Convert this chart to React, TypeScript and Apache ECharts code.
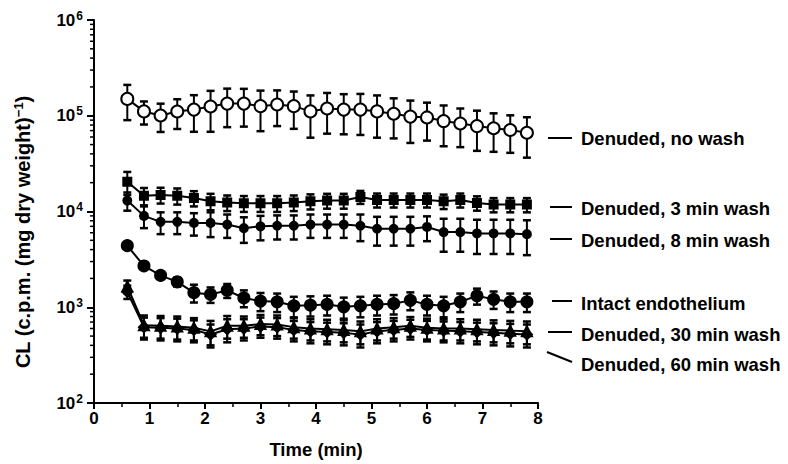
import React, { useEffect, useRef } from "react";
import * as echarts from "echarts";

const times = [0.6, 0.9, 1.2, 1.5, 1.8, 2.1, 2.4, 2.7, 3.0, 3.3, 3.6, 3.9, 4.2, 4.5, 4.8, 5.1, 5.4, 5.7, 6.0, 6.3, 6.6, 6.9, 7.2, 7.5, 7.8];

const noWash = [150000, 111000, 100700, 110700, 116000, 125000, 134000, 134000, 126000, 131000, 126000, 111000, 119000, 116000, 116000, 111000, 105000, 98000, 96000, 88000, 83000, 78000, 74000, 71000, 66500];
const noWashErr = [60000, 30000, 33000, 38000, 48000, 57000, 58000, 57000, 57000, 53000, 53000, 52000, 54000, 52000, 53000, 52000, 47000, 46000, 41000, 40000, 36000, 35000, 32000, 30000, 30000];

const wash3 = [20400, 14600, 14900, 14600, 13800, 12800, 12400, 12200, 12200, 12200, 12400, 12800, 13000, 13000, 14200, 13200, 13200, 13200, 13200, 12800, 13200, 12300, 11800, 11800, 11800];
const wash3Err = [5500, 3000, 2800, 2800, 2500, 2500, 2300, 2300, 2300, 2300, 2300, 2300, 2300, 2300, 2200, 2200, 2200, 2200, 2200, 2200, 2200, 2100, 2000, 2000, 2000];

const wash8 = [13000, 9000, 7800, 7800, 7600, 7600, 7300, 6700, 7000, 7100, 7100, 7300, 7300, 7300, 7100, 6600, 6600, 6600, 6900, 6100, 6100, 5900, 5900, 5900, 5800];
const wash8Err = [2800, 2300, 2000, 2000, 2000, 2200, 2000, 2000, 2000, 2000, 2000, 2000, 2000, 2000, 2200, 2200, 2200, 2200, 2000, 2300, 2300, 2300, 2300, 2300, 2300];

const intact = [4400, 2700, 2150, 1840, 1420, 1360, 1500, 1250, 1160, 1140, 1035, 1050, 1070, 1010, 1035, 1070, 1090, 1180, 1070, 1035, 1140, 1315, 1210, 1140, 1140];
const intactErr = [100, 150, 150, 200, 300, 250, 250, 250, 250, 250, 250, 250, 250, 250, 250, 250, 250, 250, 250, 250, 250, 250, 250, 250, 250];

const wash30 = [1650, 650, 640, 630, 610, 560, 640, 640, 670, 660, 620, 600, 590, 580, 560, 600, 620, 640, 610, 600, 600, 590, 580, 570, 560];
const wash30Err = [250, 170, 170, 170, 160, 160, 170, 160, 160, 160, 150, 150, 150, 150, 150, 150, 150, 150, 150, 150, 150, 150, 150, 150, 150];

const wash60 = [1450, 620, 610, 600, 580, 520, 590, 600, 630, 620, 580, 560, 550, 540, 520, 560, 580, 600, 580, 570, 560, 550, 540, 530, 520];
const wash60Err = [230, 160, 160, 160, 150, 140, 160, 150, 150, 150, 140, 140, 140, 140, 140, 140, 140, 140, 140, 140, 140, 140, 140, 140, 140];

const xTicks = [0, 1, 2, 3, 4, 5, 6, 7, 8];
const yDecades = [100, 1000, 10000, 100000, 1000000];

const seriesLabels = [
  { text: "Denuded, no wash", y: 138, line: [548, 138, 572, 138] },
  { text: "Denuded, 3 min wash", y: 208, line: [550, 207, 572, 207] },
  { text: "Denuded, 8 min wash", y: 240, line: [550, 239, 572, 239] },
  { text: "Intact endothelium", y: 303, line: [552, 301, 572, 301] },
  { text: "Denuded, 30 min wash", y: 334, line: [548, 332, 572, 332] },
  { text: "Denuded, 60 min wash", y: 364, line: [547, 352, 572, 362] },
];

const FONT = "'Liberation Sans', Arial, Helvetica, sans-serif";

function errorSeries(means: number[], errs: number[]) {
  return {
    type: "custom",
    silent: true,
    z: 2,
    clip: false,
    data: times.map((t, i) => [t, means[i], errs[i]]),
    encode: { x: 0, y: 1 },
    renderItem: (_p: any, api: any) => {
      const x = api.value(0);
      const y = api.value(1);
      const e = api.value(2);
      const top = api.coord([x, y + e]);
      const bot = api.coord([x, Math.max(y - e, 101)]);
      const hw = 4;
      const st = { stroke: "#000", lineWidth: 2 };
      return {
        type: "group",
        children: [
          { type: "line", shape: { x1: top[0], y1: top[1], x2: bot[0], y2: bot[1] }, style: st },
          { type: "line", shape: { x1: top[0] - hw, y1: top[1], x2: top[0] + hw, y2: top[1] }, style: { stroke: "#000", lineWidth: 2.5 } },
          { type: "line", shape: { x1: bot[0] - hw, y1: bot[1], x2: bot[0] + hw, y2: bot[1] }, style: { stroke: "#000", lineWidth: 2.5 } },
        ],
      };
    },
  };
}

function lineSeries(means: number[], symbol: string, size: number, fill: string) {
  return {
    type: "line",
    z: 3,
    data: times.map((t, i) => [t, means[i]]),
    symbol,
    symbolSize: size,
    showAllSymbol: true,
    itemStyle: { color: fill, borderColor: "#000", borderWidth: 2 },
    lineStyle: { color: "#000", width: 2 },
    emphasis: { disabled: true },
  };
}

export default function App() {
  const ref = useRef<HTMLDivElement>(null);
  useEffect(() => {
    if (!ref.current) return;
    const chart = echarts.init(ref.current, null, { renderer: "svg" });
    const minorVals: number[] = [];
    for (let d = 0; d < yDecades.length - 1; d++) {
      for (let k = 2; k <= 9; k++) minorVals.push(yDecades[d] * k);
    }
    const graphics: any[] = [];
    seriesLabels.forEach((l) => {
      graphics.push({
        type: "line",
        shape: { x1: l.line[0], y1: l.line[1], x2: l.line[2], y2: l.line[3] },
        style: { stroke: "#000", lineWidth: 2 },
      });
      graphics.push({
        type: "text",
        x: 581,
        y: l.y,
        style: { text: l.text, font: `bold 18.5px ${FONT}`, fill: "#000", verticalAlign: "middle", align: "left" },
      });
    });
    graphics.push({
      type: "text",
      x: 23,
      y: 232,
      rotation: Math.PI / 2,
      style: {
        text: "{a|CL (c.p.m. (mg dry weight)}{s|−1}{a|)}",
        align: "center",
        verticalAlign: "middle",
        rich: {
          a: { fontFamily: FONT, fontWeight: "bold", fontSize: 20, fill: "#000", color: "#000" },
          s: { fontFamily: FONT, fontWeight: "bold", fontSize: 13, fill: "#000", color: "#000", verticalAlign: "top", padding: [0, 0, 9, 0] },
        },
      },
    });
    chart.setOption({
      animation: false,
      backgroundColor: "#fff",
      grid: { left: 94, right: 250, top: 20, bottom: 59 },
      xAxis: {
        type: "value",
        min: xTicks[0],
        max: xTicks[xTicks.length - 1],
        interval: 1,
        name: "Time (min)",
        nameLocation: "middle",
        nameGap: 37,
        nameTextStyle: { fontFamily: FONT, fontWeight: "bold", fontSize: 18.5, color: "#000" },
        axisLine: { lineStyle: { color: "#000", width: 2 } },
        axisTick: { length: 6, lineStyle: { color: "#000", width: 2 } },
        minorTick: { show: true, splitNumber: 2, length: 4, lineStyle: { color: "#000", width: 1.5 } },
        splitLine: { show: false },
        axisLabel: { fontFamily: FONT, fontWeight: "bold", fontSize: 17, color: "#000", margin: 7 },
      },
      yAxis: {
        type: "log",
        logBase: 10,
        min: yDecades[0],
        max: yDecades[yDecades.length - 1],
        axisLine: { show: true, lineStyle: { color: "#000", width: 2 } },
        axisTick: { length: 7, lineStyle: { color: "#000", width: 2 } },
        splitLine: { show: false },
        axisLabel: {
          margin: 11,
          formatter: (v: number) => `{b|10}{s|${Math.round(Math.log10(v))}}`,
          rich: {
            b: { fontFamily: FONT, fontWeight: "bold", fontSize: 17, color: "#000" },
            s: { fontFamily: FONT, fontWeight: "bold", fontSize: 12, color: "#000", verticalAlign: "top", padding: [0, 0, 9, 1] },
          },
        },
      },
      series: [
        {
          type: "custom",
          silent: true,
          clip: false,
          z: 5,
          data: minorVals.map((v) => [0, v]),
          encode: { x: 0, y: 1 },
          renderItem: (_p: any, api: any) => {
            const c = api.coord([api.value(0), api.value(1)]);
            return { type: "line", shape: { x1: c[0] - 4, y1: c[1], x2: c[0], y2: c[1] }, style: { stroke: "#000", lineWidth: 1.5 } };
          },
        },
        errorSeries(noWash, noWashErr),
        errorSeries(wash3, wash3Err),
        errorSeries(wash8, wash8Err),
        errorSeries(intact, intactErr),
        errorSeries(wash30, wash30Err),
        errorSeries(wash60, wash60Err),
        lineSeries(noWash, "circle", 12, "#fff"),
        lineSeries(wash3, "rect", 8, "#000"),
        lineSeries(wash8, "circle", 8, "#000"),
        lineSeries(intact, "circle", 11, "#000"),
        lineSeries(wash30, "triangle", 10, "#000"),
        lineSeries(wash60, "diamond", 10, "#000"),
      ],
      graphic: graphics,
    });
    return () => chart.dispose();
  }, []);
  return <div ref={ref} style={{ width: 788, height: 464, position: "absolute", left: 0, top: 0 }} />;
}
